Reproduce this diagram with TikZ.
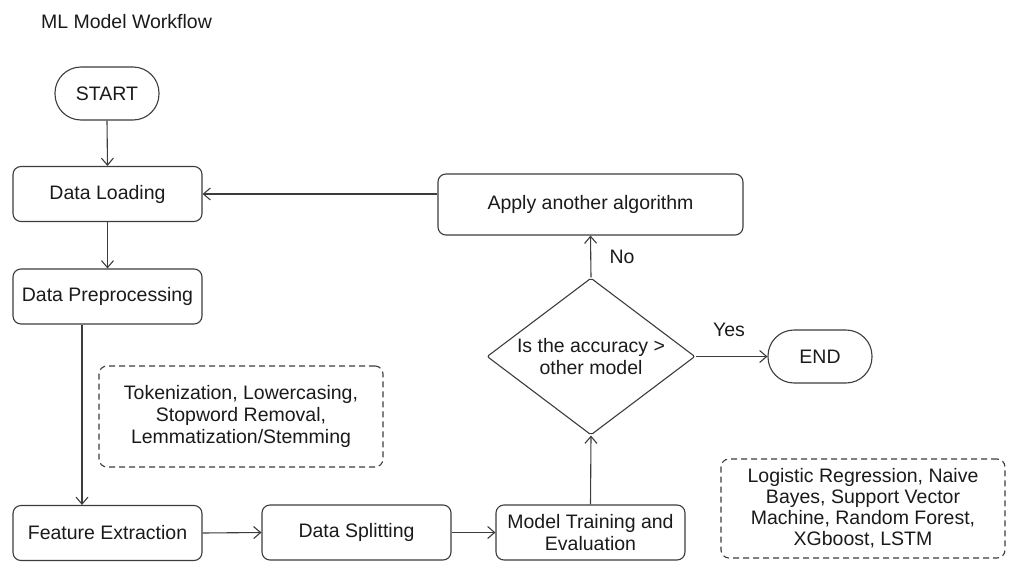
\documentclass[tikz,border=0pt]{standalone}
\usepackage{fontspec}
\setmainfont{Liberation Sans}
\usetikzlibrary{shapes.geometric,arrows.meta}
\definecolor{ln}{HTML}{3C3C3C}
\definecolor{tx}{HTML}{1A1A1A}
\begin{document}
\begin{tikzpicture}[x=1pt,y=-1pt,
  font=\fontsize{19.5}{22}\selectfont,
  every node/.style={text=tx, align=center, inner sep=0pt},
  box/.style={draw=ln, line width=1.1pt, rounded corners=8pt, minimum width=189pt, minimum height=55pt},
  pill/.style={draw=ln, line width=1.1pt, rounded corners=26pt, minimum width=104pt, minimum height=53pt},
  notebox/.style={draw=ln, line width=1.1pt, dash pattern=on 6pt off 4pt, rounded corners=8pt, minimum width=284pt},
  arr/.style={draw=ln, line width=1.1pt, -{Straight Barb[length=7pt,width=12pt]}}
]
\useasboundingbox (0,0) rectangle (1012,570);
\node (title) at (126.5,22) {ML Model Workflow};
\node[pill] (start) at (107,93.5) {START};
\node[box] (load) at (107.5,194) {Data Loading};
\node[box] (prep) at (107.5,296.5) {Data Preprocessing};
\node[box] (feat) at (107.5,533) {Feature Extraction};
\node[box] (split) at (356.5,532.5) {Data Splitting};
\node[box] (train) at (590.5,532.5) {Model Training and\\Evaluation};
\node[box, minimum width=305pt, minimum height=61pt] (apply) at (590.5,204.5) {Apply another algorithm};
\node[diamond, draw=ln, line width=1.1pt, rounded corners=2pt, minimum width=208pt, minimum height=157pt] (dec) at (591,356.5) {};
\node (dectext) at (dec.center) {Is the accuracy >\\other model};
\node[pill] (end) at (820,356.5) {END};
\node[notebox, minimum height=101pt] (note1) at (241,416.5) {Tokenization, Lowercasing,\\Stopword Removal,\\Lemmatization/Stemming};
\node[notebox, minimum height=99pt, font=\fontsize{19.5}{21}\selectfont] (note2) at (863,508.5) {Logistic Regression, Naive\\Bayes, Support Vector\\Machine, Random Forest,\\XGboost, LSTM};
\draw[arr] (start.south) -- (load.north);
\draw[arr] (load.south) -- (prep.north);
\draw[arr] ([xshift=-25.5pt]prep.south) -- ([xshift=-25.5pt]feat.north);
\draw[arr] (feat.east) -- (split.west);
\draw[arr] (split.east) -- (train.west);
\draw[arr] (train.north) -- (dec.south);
\draw[arr] (dec.north) -- (apply.south);
\draw[arr] (apply.west |- load.east) -- (load.east);
\draw[arr] (dec.east) -- (end.west);
\node (no) at (622,257) {No};
\node (yes) at (729,330) {Yes};
\end{tikzpicture}
\end{document}
